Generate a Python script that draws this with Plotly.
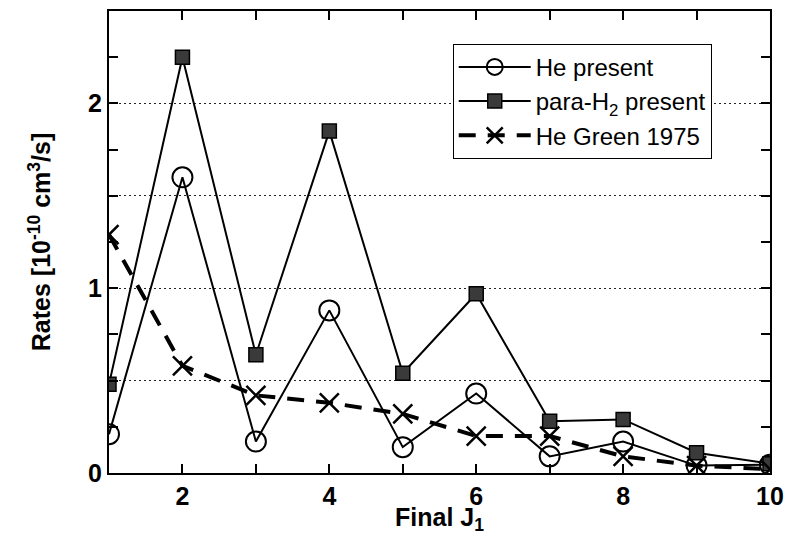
import plotly.graph_objects as go

# Final rotational level J1
final_j = [1, 2, 3, 4, 5, 6, 7, 8, 9, 10]

# Rates in units of 1e-10 cm^3/s
he_present = [0.21, 1.6, 0.17, 0.88, 0.14, 0.43, 0.09, 0.17, 0.04, 0.045]
para_h2_present = [0.48, 2.25, 0.64, 1.85, 0.54, 0.97, 0.28, 0.29, 0.11, 0.05]
he_green_1975 = [1.29, 0.58, 0.42, 0.38, 0.32, 0.2, 0.2, 0.09, 0.04, 0.02]

x_tickvals = [1, 2, 3, 4, 5, 6, 7, 8, 9, 10]
x_ticktext = ["", "2", "", "4", "", "6", "", "8", "", "10"]
y_tickvals = [0, 0.5, 1, 1.5, 2, 2.5]
y_ticktext = ["0", "", "1", "", "2", ""]

FONT = "Liberation Sans, Arial, sans-serif"

fig = go.Figure()

fig.add_trace(go.Scatter(
    x=final_j, y=he_present, name="He present",
    mode="lines+markers",
    line=dict(color="black", width=2),
    marker=dict(symbol="circle-open", size=20, color="black", line=dict(width=2)),
))
fig.add_trace(go.Scatter(
    x=final_j, y=para_h2_present, name="para-H<sub>2</sub> present",
    mode="lines+markers",
    line=dict(color="black", width=2),
    marker=dict(symbol="square", size=14, color="#3a3a3a",
                line=dict(color="black", width=1.5)),
))
fig.add_trace(go.Scatter(
    x=final_j, y=he_green_1975, name="He Green 1975",
    mode="lines+markers",
    line=dict(color="black", width=4, dash="17px,12px"),
    marker=dict(symbol="x-thin-open", size=19, color="black", line=dict(width=2.5, color="black")),
))

fig.update_layout(
    width=787, height=535,
    margin=dict(l=109, r=17, t=11, b=62, autoexpand=False),
    paper_bgcolor="white", plot_bgcolor="white",
    font=dict(family=FONT, color="black"),
    showlegend=True,
    legend=dict(
        x=0.52, y=0.929, xanchor="left", yanchor="top",
        bgcolor="white", bordercolor="black", borderwidth=1,
        font=dict(size=24, family=FONT),
        tracegroupgap=0, itemwidth=72,
    ),
)

fig.update_xaxes(
    range=[1, 10],
    tickmode="array", tickvals=x_tickvals, ticktext=x_ticktext,
    ticks="inside", ticklen=9, tickwidth=2, tickcolor="black",
    showline=True, linecolor="black", linewidth=2, mirror="ticks",
    showgrid=False, zeroline=False, automargin=False,
    tickfont=dict(size=25, family=FONT, weight="bold"),
    title=dict(text="Final J<sub>1</sub>", font=dict(size=25, family=FONT, weight="bold"), standoff=0),
)

fig.update_yaxes(
    range=[0, 2.5],
    tickmode="array", tickvals=y_tickvals, ticktext=y_ticktext,
    ticks="inside", ticklen=9, tickwidth=2, tickcolor="black",
    minor=dict(dtick=0.25, tick0=0, ticks="inside", ticklen=9, tickwidth=2,
               tickcolor="black", showgrid=False),
    showline=True, linecolor="black", linewidth=2, mirror="ticks",
    showgrid=True, gridcolor="#222222", griddash="2px,3px", gridwidth=1,
    zeroline=False, automargin=False,
    tickfont=dict(size=25, family=FONT, weight="bold"),
    title=dict(text="Rates [10<sup>-10</sup> cm<sup>3</sup>/s]",
               font=dict(size=25, family=FONT, weight="bold"), standoff=30),
)

fig.write_html("out.html")
